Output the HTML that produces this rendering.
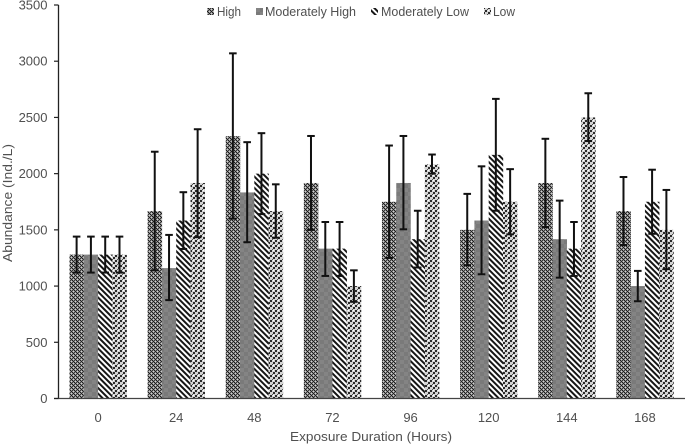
<!DOCTYPE html>
<html lang="en">
<head>
<meta charset="utf-8">
<title>Abundance by Exposure Duration</title>
<style>
html,body{margin:0;padding:0;background:#fff;width:685px;height:444px;overflow:hidden}
svg{display:block}
text{font-family:"Liberation Sans",sans-serif;fill:#505050}
</style>
</head>
<body>
<svg id="chart" width="685" height="444" viewBox="0 0 685 444" xmlns="http://www.w3.org/2000/svg">
<defs>
<pattern id="p-high" width="4" height="4" patternUnits="userSpaceOnUse" shape-rendering="crispEdges">
<rect width="4" height="4" fill="#8c8c8c"/>
<rect x="0" y="0" width="1" height="1" fill="#1c1c1c"/><rect x="1" y="1" width="1" height="1" fill="#1c1c1c"/>
<rect x="2" y="2" width="1" height="1" fill="#1c1c1c"/><rect x="3" y="3" width="1" height="1" fill="#1c1c1c"/>
<rect x="2" y="0" width="1" height="1" fill="#3a3a3a"/><rect x="0" y="2" width="1" height="1" fill="#3a3a3a"/>
<rect x="3" y="1" width="1" height="1" fill="#d0d0d0"/><rect x="1" y="3" width="1" height="1" fill="#d0d0d0"/>
</pattern>
<pattern id="p-mod-high" width="8" height="8" patternUnits="userSpaceOnUse" shape-rendering="crispEdges">
<rect width="8" height="8" fill="#7a7a7a"/>
<rect x="0" y="0" width="4" height="4" fill="#848484"/><rect x="4" y="4" width="4" height="4" fill="#848484"/>
</pattern>
<pattern id="p-mod-low" width="4" height="4" patternUnits="userSpaceOnUse" patternTransform="rotate(45)">
<rect width="4" height="4" fill="#fff"/>
<rect x="0" y="0" width="4" height="2" fill="#161616"/>
</pattern>
<pattern id="p-low" width="5" height="5" patternUnits="userSpaceOnUse" shape-rendering="crispEdges">
<rect width="5" height="5" fill="#d4d4d4"/>
<rect x="0" y="0" width="2" height="2" fill="#2a2a2a"/><rect x="3" y="2" width="2" height="2" fill="#2a2a2a"/>
<rect x="2" y="4" width="1" height="1" fill="#555"/><rect x="3" y="0" width="1" height="1" fill="#fff"/>
</pattern>
</defs>
<g id="bars"></g>
<g id="errors"></g>
<g id="axes"></g>
<g id="legend"></g>
<text x="371" y="441" text-anchor="middle" font-size="13" textLength="162" lengthAdjust="spacingAndGlyphs">Exposure Duration (Hours)</text>
<text transform="translate(12,203) rotate(-90)" text-anchor="middle" font-size="13" textLength="118" lengthAdjust="spacingAndGlyphs">Abundance (Ind./L)</text>
</svg>
<script>
const categories = ['0','24','48','72','96','120','144','168'];
const seriesNames = ['High','Moderately High','Moderately Low','Low'];
const high = [1280,1667,2333,1917,1750,1500,1917,1667];
const moderatelyHigh = [1280,1160,1833,1333,1917,1583,1417,1000];
const moderatelyLow = [1280,1583,2000,1333,1417,2167,1333,1750];
const low = [1280,1917,1667,1000,2083,1750,2500,1500];
const highUpper = [1440,2195,3070,2335,2250,1820,2310,1970];
const highLower = [1120,1140,1600,1500,1250,1185,1525,1365];
const moderatelyHighUpper = [1440,1455,2280,1570,2335,2065,1760,1135];
const moderatelyHighLower = [1120,875,1390,1090,1505,1105,1075,865];
const moderatelyLowUpper = [1440,1835,2360,1570,1670,2665,1570,2035];
const moderatelyLowLower = [1120,1330,1640,1090,1165,1670,1090,1465];
const lowUpper = [1440,2395,1905,1140,2170,2040,2715,1855];
const lowLower = [1120,1435,1430,860,2000,1460,2290,1150];
const yTicks = [0,500,1000,1500,2000,2500,3000,3500];

const NS = 'http://www.w3.org/2000/svg';
const plotLeft = 59, plotRight = 684, plotBottom = 398.5, plotTop = 5;
const yMax = 3500, barWidth = 14.3;
const values = [high, moderatelyHigh, moderatelyLow, low];
const uppers = [highUpper, moderatelyHighUpper, moderatelyLowUpper, lowUpper];
const lowers = [highLower, moderatelyHighLower, moderatelyLowLower, lowLower];
const fills = ['url(#p-high)','url(#p-mod-high)','url(#p-mod-low)','url(#p-low)'];
const slugs = ['high','moderately-high','moderately-low','low'];
const legendX = [207,256,371,484];
const legendTextX = [217,265,381,493];
const legendTextW = [24,91,88,22];

function yScale(v){ return plotBottom - (v / yMax) * (plotBottom - plotTop); }
function xCenter(i){ return plotLeft + (i + 0.5) * (plotRight - plotLeft) / categories.length; }
function barLeft(i, s){ return xCenter(i) - 2 * barWidth + s * barWidth; }
function make(tag, attrs, parent){
  const el = document.createElementNS(NS, tag);
  for (const k in attrs) el.setAttribute(k, attrs[k]);
  parent.appendChild(el);
  return el;
}

const barsG = document.getElementById('bars');
const errG = document.getElementById('errors');
const axesG = document.getElementById('axes');
const legendG = document.getElementById('legend');

values.forEach(function(series, s){
  series.forEach(function(v, i){
    const top = yScale(v);
    const bar = make('rect', {x: barLeft(i, s), y: top, width: barWidth + 0.2, height: plotBottom - top, fill: fills[s]}, barsG);
    
    

    const cx = barLeft(i, s) + barWidth / 2;
    const yU = yScale(uppers[s][i]);
    const yL = yScale(lowers[s][i]);
    const g = make('g', {stroke: '#111', 'stroke-width': 2, fill: 'none'}, errG);
    
    
    make('line', {x1: cx, x2: cx, y1: yU, y2: yL}, g);
    make('line', {x1: cx - 3.8, x2: cx + 3.8, y1: yU, y2: yU}, g);
    make('line', {x1: cx - 3.8, x2: cx + 3.8, y1: yL, y2: yL}, g);
  });
});

const yAxis = make('line', {x1: 58.5, x2: 58.5, y1: yScale(3500), y2: plotBottom, stroke: '#222', 'stroke-width': 1.3}, axesG);


const xAxis = make('line', {x1: 54, x2: plotRight + 1, y1: plotBottom, y2: plotBottom, stroke: '#444', 'stroke-width': 1.3}, axesG);



yTicks.forEach(function(t){
  const y = yScale(t);
  const tick = make('line', {x1: 54, x2: 58.5, y1: y, y2: y, stroke: '#222', 'stroke-width': 1.2}, axesG);
  
  
  const label = make('text', {x: 47.5, y: y + 4.5, 'text-anchor': 'end', 'font-size': 13}, axesG);
  
  
  label.textContent = t;
});

categories.forEach(function(c, i){
  const label = make('text', {x: xCenter(i), y: 422, 'text-anchor': 'middle', 'font-size': 13}, axesG);
  
  
  label.textContent = c;
});

seriesNames.forEach(function(name, s){
  const g = make('g', {}, legendG);
  
  
  const sw = make('rect', {x: legendX[s], y: 8, width: 7, height: 7, fill: fills[s]}, g);
  
  
  const label = make('text', {x: legendTextX[s], y: 16, 'font-size': 12.5, textLength: legendTextW[s], lengthAdjust: 'spacingAndGlyphs'}, g);
  
  
  label.textContent = name;
});
</script>
</body>
</html>
